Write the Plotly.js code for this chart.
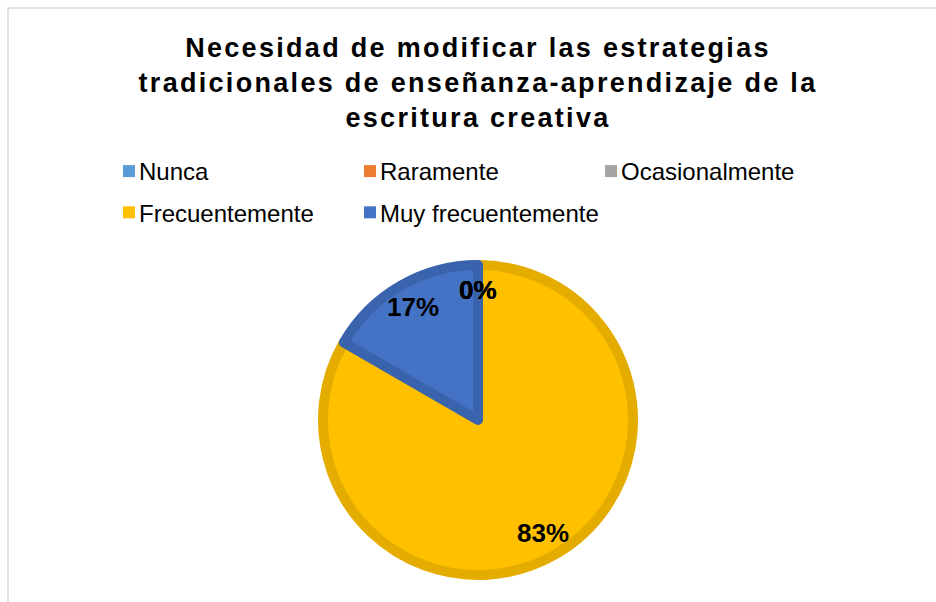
<!DOCTYPE html>
<html>
<head>
<meta charset="utf-8">
<script src="https://cdn.plot.ly/plotly-3.0.1.min.js"></script>
<style>
  html, body { margin: 0; padding: 0; background: #fff; }
  #chart { width: 936px; height: 602px; }
  .gtitle { letter-spacing: 2.3px; }
  .legend .legendpoints path { stroke-width: 0 !important; }
  .legend .legendtext { transform: translate(-10px, 0px); }
</style>
</head>
<body>
<div id="chart"></div>
<script>
// ---- data ----
const categories = ["Nunca", "Raramente", "Ocasionalmente", "Frecuentemente", "Muy frecuentemente"];
const values = [0, 0, 0, 5, 1];
const sliceColors = ["#5B9BD5", "#ED7D31", "#A5A5A5", "#FFC000", "#4472C4"];
const borderColors = ["#4A86BF", "#D46A22", "#909090", "#E5AC00", "#3A63AD"];
const titleText = "Necesidad de modificar las estrategias<br>tradicionales de enseñanza-aprendizaje de la<br>escritura creativa";

// ---- layout constants ----
const W = 936, H = 602;
const CX = 478, CY = 420, R = 155, LABEL_R = 130;

const total = values.reduce((a, b) => a + b, 0);
const annotations = [];
let cum = 0;
values.forEach((v) => {
  const mid = (cum + v / 2) / total * 2 * Math.PI;
  cum += v;
  const px = CX + LABEL_R * Math.sin(mid);
  const py = CY - LABEL_R * Math.cos(mid);
  annotations.push({
    xref: "paper", yref: "paper",
    x: px / W, y: 1 - py / H,
    xanchor: "center", yanchor: "middle",
    text: Math.round(v / total * 100) + "%",
    showarrow: false,
    font: { family: "Liberation Sans, Arial, sans-serif", size: 26, color: "#000", weight: "bold" }
  });
});

const trace = {
  type: "pie",
  labels: categories,
  values: values,
  sort: false,
  direction: "clockwise",
  rotation: 0,
  textinfo: "none",
  hoverinfo: "label+percent",
  marker: { colors: sliceColors, line: { color: borderColors, width: 10 } },
  domain: { x: [(CX - R) / W, (CX + R) / W], y: [1 - (CY + R) / H, 1 - (CY - R) / H] }
};

const layout = {
  width: W, height: H,
  margin: { l: 0, r: 0, t: 0, b: 0 },
  paper_bgcolor: "#fff",
  title: {
    text: titleText,
    x: 478 / W, xanchor: "center",
    y: 1 - 57 / H, yanchor: "top",
    font: { family: "Liberation Sans, Arial, sans-serif", size: 27, color: "#000", weight: "bold" }
  },
  showlegend: true,
  legend: {
    orientation: "h",
    x: 109 / W, xanchor: "left",
    y: 1 - 149 / H, yanchor: "top",
    entrywidth: 196, entrywidthmode: "pixels",
    bgcolor: "rgba(0,0,0,0)",
    font: { family: "Liberation Sans, Arial, sans-serif", size: 24, color: "#000" },
    traceorder: "normal"
  },
  annotations: annotations,
  shapes: [{
    type: "rect", xref: "paper", yref: "paper",
    x0: 8 / W, x1: 1.05, y0: -0.05, y1: 1 - 8 / H,
    line: { color: "#D9D9D9", width: 1.5 }, fillcolor: "rgba(0,0,0,0)"
  }]
};

Plotly.newPlot("chart", [trace], layout, { displayModeBar: false, staticPlot: true }).then((gd) => {
  // extra vertical gap between legend rows, as in the reference
  const items = Array.from(gd.querySelectorAll(".legend .traces"));
  const parsed = items.map((el) => {
    const m = /translate\(\s*([-\d.]+)[ ,]+([-\d.]+)\s*\)/.exec(el.getAttribute("transform") || "");
    return m ? { el, x: +m[1], y: +m[2] } : null;
  }).filter(Boolean);
  const rows = Array.from(new Set(parsed.map((p) => p.y))).sort((a, b) => a - b);
  parsed.forEach((p) => {
    const k = rows.indexOf(p.y);
    p.el.setAttribute("transform", "translate(" + p.x + "," + (p.y + k * 7) + ")");
  });
});
</script>
</body>
</html>
